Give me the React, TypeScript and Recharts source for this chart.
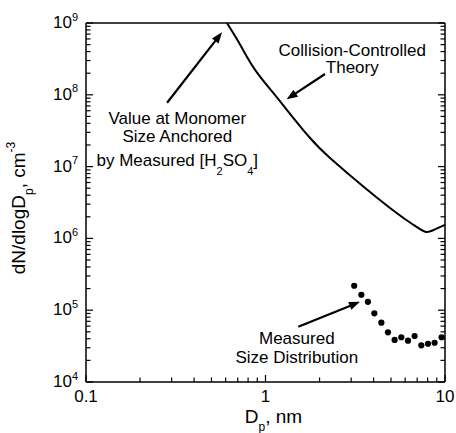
import React from 'react';
import { ComposedChart, Line, Scatter, XAxis, YAxis, ReferenceLine, ReferenceDot } from 'recharts';

const FONT = '"Liberation Sans", Arial, Helvetica, sans-serif';

// Collision-controlled theory curve (Dp in nm, dN/dlogDp in cm^-3)
const theoryDiameter = [0.61, 0.724, 0.877, 1.11, 1.318, 1.777, 2.296, 3.52, 5.4, 6.68, 7.76, 8.64, 10];
const theoryConc = [1e9, 4.94e8, 2.21e8, 1.05e8, 6.14e7, 2.48e7, 1.31e7, 5.25e6, 2.24e6, 1.54e6, 1.24e6, 1.31e6, 1.54e6];

// Measured size distribution
const measuredDiameter = [3.12, 3.42, 3.72, 4.04, 4.42, 4.81, 5.24, 5.71, 6.22, 6.77, 7.38, 8.04, 8.75, 9.57];
const measuredConc = [2.19e5, 1.64e5, 1.31e5, 9.06e4, 6.7e4, 4.92e4, 3.85e4, 4.2e4, 3.76e4, 4.37e4, 3.24e4, 3.41e4, 3.52e4, 4.2e4];

// Ticks
const xMajorTicks = [0.1, 1, 10];
const xMajorLabels = ['0.1', '1', '10'];
const xMinorTicks = [0.2, 0.3, 0.4, 0.5, 0.6, 0.7, 0.8, 0.9, 2, 3, 4, 5, 6, 7, 8, 9];
const yMajorTicks = [1e4, 1e5, 1e6, 1e7, 1e8, 1e9];
const yMajorExponents = ['4', '5', '6', '7', '8', '9'];
const yMinorMultipliers = [2, 3, 4, 5, 6, 7, 8, 9];

// Annotation arrows (tail -> head, data coordinates)
const arrowTailX = [0.283, 2.145, 1.523];
const arrowTailY = [7.76e7, 1.95e8, 5.89e4];
const arrowHeadX = [0.5725, 1.311, 3.36];
const arrowHeadY = [7.41e8, 8.65e7, 1.31e5];

const theoryData = theoryDiameter.map((x, i) => ({ x, y: theoryConc[i] }));
const measuredData = measuredDiameter.map((x, i) => ({ x, y: measuredConc[i] }));
const xTicks = [...xMajorTicks, ...xMinorTicks].sort((a, b) => a - b);
const yMinorTicks = yMajorTicks.slice(0, -1).flatMap((d) => yMinorMultipliers.map((m) => m * d));
const yTicks = [...yMajorTicks, ...yMinorTicks].sort((a, b) => a - b);

const isMajorX = (v: number) => xMajorTicks.some((t) => Math.abs(t - v) < 1e-9);
const isMajorY = (v: number) => yMajorTicks.some((t) => Math.abs(t - v) / t < 1e-9);

const STROKE = '#000';
const TW = 1.2;
const MAJOR_LEN = 7;
const MINOR_LEN = 4.5;

const BottomTick = (props: any) => {
  const { x, y, payload } = props;
  const v = payload.value;
  const major = isMajorX(v);
  const idx = xMajorTicks.findIndex((t) => Math.abs(t - v) < 1e-9);
  return (
    <g>
      <line x1={x} x2={x} y1={y} y2={y - (major ? MAJOR_LEN : MINOR_LEN)} stroke={STROKE} strokeWidth={TW} />
      {major && (
        <text x={x} y={y + 19.5} textAnchor="middle" fontSize={17} fontFamily={FONT} fill="#000">
          {xMajorLabels[idx]}
        </text>
      )}
    </g>
  );
};

const TopTick = (props: any) => {
  const { x, y, payload } = props;
  const major = isMajorX(payload.value);
  return <line x1={x} x2={x} y1={y} y2={y + (major ? MAJOR_LEN : MINOR_LEN)} stroke={STROKE} strokeWidth={TW} />;
};

const LeftTick = (props: any) => {
  const { x, y, payload } = props;
  const v = payload.value;
  const major = isMajorY(v);
  const idx = yMajorTicks.findIndex((t) => Math.abs(t - v) / t < 1e-9);
  return (
    <g>
      <line x1={x} x2={x + (major ? MAJOR_LEN : MINOR_LEN)} y1={y} y2={y} stroke={STROKE} strokeWidth={TW} />
      {major && (
        <text x={x - 8} y={y + 5} textAnchor="end" fontSize={17} fontFamily={FONT} fill="#000">
          10
          <tspan dy={-7.5} fontSize={11}>
            {yMajorExponents[idx]}
          </tspan>
        </text>
      )}
    </g>
  );
};

const RightTick = (props: any) => {
  const { x, y, payload } = props;
  const major = isMajorY(payload.value);
  return <line x1={x} x2={x - (major ? MAJOR_LEN : MINOR_LEN)} y1={y} y2={y} stroke={STROKE} strokeWidth={TW} />;
};

const Arrow = (p: any) => {
  const { x1, y1, x2, y2 } = p;
  const dx = x2 - x1;
  const dy = y2 - y1;
  const len = Math.sqrt(dx * dx + dy * dy);
  const ux = dx / len;
  const uy = dy / len;
  const hl = 11;
  const hw = 4.2;
  const bx = x2 - ux * hl;
  const by = y2 - uy * hl;
  const pts = `${x2},${y2} ${bx - uy * hw},${by + ux * hw} ${bx + uy * hw},${by - ux * hw}`;
  return (
    <g>
      <line x1={x1} y1={y1} x2={bx + ux * 2} y2={by + uy * 2} stroke="#000" strokeWidth={2.2} />
      <polygon points={pts} fill="#000" />
    </g>
  );
};

const txt = { fontSize: 17, fontFamily: FONT, fill: '#000', textAnchor: 'middle' as const };

const TheoryLabel = (p: any) => (
  <g>
    <text x={p.cx} y={p.cy} {...txt}>Collision-Controlled</text>
    <text x={p.cx} y={p.cy + 17.6} {...txt}>Theory</text>
  </g>
);

const MonomerLabel = (p: any) => (
  <g>
    <text x={p.cx} y={p.cy} {...txt}>Value at Monomer</text>
    <text x={p.cx} y={p.cy + 18} {...txt}>Size Anchored</text>
    <text x={p.cx} y={p.cy + 42} {...txt}>
      by Measured [H
      <tspan dy={9} fontSize={11}>2</tspan>
      <tspan dy={-9}>SO</tspan>
      <tspan dy={9} fontSize={11}>4</tspan>
      <tspan dy={-9}>]</tspan>
    </text>
  </g>
);

const MeasuredLabel = (p: any) => (
  <g>
    <text x={p.cx} y={p.cy} {...txt}>Measured</text>
    <text x={p.cx} y={p.cy + 18.7} {...txt}>Size Distribution</text>
  </g>
);

const XTitle = (props: any) => {
  const vb = props.viewBox || {};
  const cx = vb.x + vb.width / 2 + 8;
  const cy = vb.y + 41;
  return (
    <text x={cx} y={cy} textAnchor="middle" fontSize={19} fontFamily={FONT} fill="#000">
      D
      <tspan dy={8} fontSize={12}>p</tspan>
      <tspan dy={-8}>, nm</tspan>
    </text>
  );
};

const YTitle = (props: any) => {
  const vb = props.viewBox || {};
  const cx = 25;
  const cy = vb.y + vb.height / 2 + 5.5;
  return (
    <text
      x={cx}
      y={cy}
      transform={`rotate(-90, ${cx}, ${cy})`}
      textAnchor="middle"
      fontSize={19}
      fontFamily={FONT}
      fill="#000"
    >
      dN/dlogD
      <tspan dy={8} fontSize={12}>p</tspan>
      <tspan dy={-8}>, cm</tspan>
      <tspan dy={-10} fontSize={12}>-3</tspan>
    </text>
  );
};

const Dot = (p: any) => <circle cx={p.cx} cy={p.cy} r={3.1} fill="#000" />;

export default function App() {
  const axisLine = { stroke: '#000', strokeWidth: 1.5 };
  return (
    <div style={{ position: 'fixed', left: 0, top: 0, background: '#fff' }}>
      <ComposedChart
        width={456}
        height={433}
        margin={{ top: 0, right: 0, bottom: 0, left: 0 }}
        style={{ fontFamily: FONT }}
      >
        <XAxis
          xAxisId="bottom"
          dataKey="x"
          type="number"
          scale="log"
          domain={[0.1, 10]}
          allowDataOverflow
          ticks={xTicks}
          interval={0}
          tickSize={0}
          tickMargin={0}
          tickLine={false}
          tick={<BottomTick />}
          axisLine={axisLine}
          height={51}
          label={XTitle}
        />
        <XAxis
          xAxisId="top"
          orientation="top"
          type="number"
          scale="log"
          domain={[0.1, 10]}
          allowDataOverflow
          ticks={xTicks}
          interval={0}
          tickSize={0}
          tickMargin={0}
          tickLine={false}
          tick={<TopTick />}
          axisLine={axisLine}
          height={23}
        />
        <YAxis
          yAxisId="left"
          dataKey="y"
          type="number"
          scale="log"
          domain={[1e4, 1e9]}
          allowDataOverflow
          ticks={yTicks}
          interval={0}
          tickSize={0}
          tickMargin={0}
          tickLine={false}
          tick={<LeftTick />}
          axisLine={axisLine}
          width={86}
          label={YTitle}
        />
        <YAxis
          yAxisId="right"
          orientation="right"
          type="number"
          scale="log"
          domain={[1e4, 1e9]}
          allowDataOverflow
          ticks={yTicks}
          interval={0}
          tickSize={0}
          tickMargin={0}
          tickLine={false}
          tick={<RightTick />}
          axisLine={axisLine}
          width={11}
        />
        <Line
          xAxisId="bottom"
          yAxisId="left"
          data={theoryData}
          dataKey="y"
          type="natural"
          stroke="#000"
          strokeWidth={2}
          dot={false}
          isAnimationActive={false}
        />
        <Scatter
          xAxisId="bottom"
          yAxisId="left"
          data={measuredData}
          dataKey="y"
          shape={Dot}
          isAnimationActive={false}
        />
        {arrowTailX.map((tx, i) => (
          <ReferenceLine
            key={`arrow-${i}`}
            xAxisId="bottom"
            yAxisId="left"
            segment={[
              { x: tx, y: arrowTailY[i] },
              { x: arrowHeadX[i], y: arrowHeadY[i] },
            ]}
            shape={Arrow}
          />
        ))}
        <ReferenceDot xAxisId="bottom" yAxisId="left" x={3.045} y={3.51e8} r={0} shape={TheoryLabel} />
        <ReferenceDot xAxisId="bottom" yAxisId="left" x={0.3226} y={3.92e7} r={0} shape={MonomerLabel} />
        <ReferenceDot xAxisId="bottom" yAxisId="left" x={1.494} y={3.38e4} r={0} shape={MeasuredLabel} />
      </ComposedChart>
    </div>
  );
}
